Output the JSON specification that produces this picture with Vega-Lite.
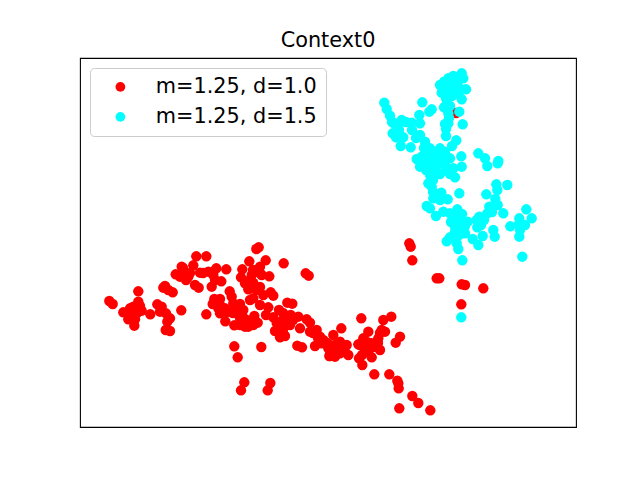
{"$schema":"https://vega.github.io/schema/vega-lite/v6.json","width":496,"height":369,"autosize":{"type":"none"},"padding":{"left":80,"top":58,"right":64,"bottom":53},"background":"white","title":{"text":"Context0","font":"DejaVu Sans","fontSize":20.8,"fontWeight":"normal","color":"black","anchor":"middle","offset":6},"config":{"view":{"stroke":"black","strokeWidth":1.1},"font":"DejaVu Sans"},"data":{"values":[{"x":109.3,"y":301,"s":"m=1.25, d=1.0"},{"x":112.7,"y":304,"s":"m=1.25, d=1.0"},{"x":138.3,"y":291.3,"s":"m=1.25, d=1.0"},{"x":123.3,"y":312.3,"s":"m=1.25, d=1.0"},{"x":130,"y":308.3,"s":"m=1.25, d=1.0"},{"x":133.3,"y":306.7,"s":"m=1.25, d=1.0"},{"x":138.3,"y":301.7,"s":"m=1.25, d=1.0"},{"x":140,"y":306,"s":"m=1.25, d=1.0"},{"x":141.7,"y":310.7,"s":"m=1.25, d=1.0"},{"x":128.3,"y":319.3,"s":"m=1.25, d=1.0"},{"x":135,"y":319.3,"s":"m=1.25, d=1.0"},{"x":134.3,"y":325.7,"s":"m=1.25, d=1.0"},{"x":131.7,"y":315,"s":"m=1.25, d=1.0"},{"x":150.3,"y":314.3,"s":"m=1.25, d=1.0"},{"x":157.3,"y":304.3,"s":"m=1.25, d=1.0"},{"x":161.7,"y":306.7,"s":"m=1.25, d=1.0"},{"x":160,"y":311.7,"s":"m=1.25, d=1.0"},{"x":166,"y":313.3,"s":"m=1.25, d=1.0"},{"x":170,"y":318.3,"s":"m=1.25, d=1.0"},{"x":167.3,"y":321.7,"s":"m=1.25, d=1.0"},{"x":165.7,"y":330,"s":"m=1.25, d=1.0"},{"x":170,"y":331,"s":"m=1.25, d=1.0"},{"x":181.3,"y":310.3,"s":"m=1.25, d=1.0"},{"x":165,"y":286,"s":"m=1.25, d=1.0"},{"x":163.3,"y":287.7,"s":"m=1.25, d=1.0"},{"x":168.3,"y":290,"s":"m=1.25, d=1.0"},{"x":172.7,"y":292.3,"s":"m=1.25, d=1.0"},{"x":175.7,"y":274.3,"s":"m=1.25, d=1.0"},{"x":181.7,"y":266.7,"s":"m=1.25, d=1.0"},{"x":183.3,"y":271.7,"s":"m=1.25, d=1.0"},{"x":180,"y":276.7,"s":"m=1.25, d=1.0"},{"x":186,"y":280,"s":"m=1.25, d=1.0"},{"x":188.3,"y":276.7,"s":"m=1.25, d=1.0"},{"x":193.3,"y":265.3,"s":"m=1.25, d=1.0"},{"x":196.3,"y":256.3,"s":"m=1.25, d=1.0"},{"x":206.3,"y":256.3,"s":"m=1.25, d=1.0"},{"x":195,"y":285,"s":"m=1.25, d=1.0"},{"x":198.7,"y":287.7,"s":"m=1.25, d=1.0"},{"x":200,"y":272.7,"s":"m=1.25, d=1.0"},{"x":208.3,"y":271.7,"s":"m=1.25, d=1.0"},{"x":216.3,"y":268.3,"s":"m=1.25, d=1.0"},{"x":213.3,"y":275,"s":"m=1.25, d=1.0"},{"x":226.3,"y":269.3,"s":"m=1.25, d=1.0"},{"x":221.3,"y":281.3,"s":"m=1.25, d=1.0"},{"x":211.7,"y":286.7,"s":"m=1.25, d=1.0"},{"x":229.7,"y":291.3,"s":"m=1.25, d=1.0"},{"x":214.3,"y":299,"s":"m=1.25, d=1.0"},{"x":220,"y":299,"s":"m=1.25, d=1.0"},{"x":212.7,"y":304,"s":"m=1.25, d=1.0"},{"x":218.3,"y":308.3,"s":"m=1.25, d=1.0"},{"x":225,"y":308.3,"s":"m=1.25, d=1.0"},{"x":220,"y":313.3,"s":"m=1.25, d=1.0"},{"x":206.3,"y":314.3,"s":"m=1.25, d=1.0"},{"x":225.3,"y":321.3,"s":"m=1.25, d=1.0"},{"x":231.7,"y":296.7,"s":"m=1.25, d=1.0"},{"x":233.3,"y":303.3,"s":"m=1.25, d=1.0"},{"x":240,"y":304,"s":"m=1.25, d=1.0"},{"x":236.7,"y":310,"s":"m=1.25, d=1.0"},{"x":243.3,"y":310,"s":"m=1.25, d=1.0"},{"x":234.3,"y":325.3,"s":"m=1.25, d=1.0"},{"x":243.3,"y":317.3,"s":"m=1.25, d=1.0"},{"x":245,"y":326.7,"s":"m=1.25, d=1.0"},{"x":253.3,"y":325,"s":"m=1.25, d=1.0"},{"x":257.7,"y":322.7,"s":"m=1.25, d=1.0"},{"x":254.3,"y":316,"s":"m=1.25, d=1.0"},{"x":242.3,"y":269.3,"s":"m=1.25, d=1.0"},{"x":241,"y":277.3,"s":"m=1.25, d=1.0"},{"x":245,"y":283.3,"s":"m=1.25, d=1.0"},{"x":248.3,"y":289.3,"s":"m=1.25, d=1.0"},{"x":256.7,"y":290,"s":"m=1.25, d=1.0"},{"x":249.3,"y":261.3,"s":"m=1.25, d=1.0"},{"x":265.7,"y":260.3,"s":"m=1.25, d=1.0"},{"x":260,"y":266.7,"s":"m=1.25, d=1.0"},{"x":256.7,"y":271.7,"s":"m=1.25, d=1.0"},{"x":251.7,"y":275,"s":"m=1.25, d=1.0"},{"x":261.7,"y":275,"s":"m=1.25, d=1.0"},{"x":269.3,"y":276.3,"s":"m=1.25, d=1.0"},{"x":283.7,"y":263.3,"s":"m=1.25, d=1.0"},{"x":256.3,"y":249,"s":"m=1.25, d=1.0"},{"x":258.7,"y":247.3,"s":"m=1.25, d=1.0"},{"x":305.7,"y":273.3,"s":"m=1.25, d=1.0"},{"x":308.7,"y":275.7,"s":"m=1.25, d=1.0"},{"x":253.3,"y":298.3,"s":"m=1.25, d=1.0"},{"x":260,"y":305,"s":"m=1.25, d=1.0"},{"x":270.7,"y":292.3,"s":"m=1.25, d=1.0"},{"x":273.3,"y":295.7,"s":"m=1.25, d=1.0"},{"x":263.3,"y":295,"s":"m=1.25, d=1.0"},{"x":268.3,"y":307.3,"s":"m=1.25, d=1.0"},{"x":266,"y":315,"s":"m=1.25, d=1.0"},{"x":273.3,"y":317.3,"s":"m=1.25, d=1.0"},{"x":279,"y":310,"s":"m=1.25, d=1.0"},{"x":287.3,"y":302.7,"s":"m=1.25, d=1.0"},{"x":292.3,"y":303.7,"s":"m=1.25, d=1.0"},{"x":283.3,"y":320,"s":"m=1.25, d=1.0"},{"x":290.7,"y":315,"s":"m=1.25, d=1.0"},{"x":298.3,"y":316.7,"s":"m=1.25, d=1.0"},{"x":306.7,"y":319.3,"s":"m=1.25, d=1.0"},{"x":310,"y":322.7,"s":"m=1.25, d=1.0"},{"x":300,"y":328.3,"s":"m=1.25, d=1.0"},{"x":290,"y":325,"s":"m=1.25, d=1.0"},{"x":275,"y":331,"s":"m=1.25, d=1.0"},{"x":280,"y":337.3,"s":"m=1.25, d=1.0"},{"x":285,"y":336,"s":"m=1.25, d=1.0"},{"x":283.3,"y":328.3,"s":"m=1.25, d=1.0"},{"x":297.3,"y":345.7,"s":"m=1.25, d=1.0"},{"x":302,"y":347.3,"s":"m=1.25, d=1.0"},{"x":310,"y":331.7,"s":"m=1.25, d=1.0"},{"x":316.7,"y":330,"s":"m=1.25, d=1.0"},{"x":320,"y":336.7,"s":"m=1.25, d=1.0"},{"x":323.3,"y":340,"s":"m=1.25, d=1.0"},{"x":315,"y":346,"s":"m=1.25, d=1.0"},{"x":321.7,"y":343.3,"s":"m=1.25, d=1.0"},{"x":328.3,"y":348.3,"s":"m=1.25, d=1.0"},{"x":329.3,"y":356,"s":"m=1.25, d=1.0"},{"x":234.3,"y":346.3,"s":"m=1.25, d=1.0"},{"x":261.3,"y":347,"s":"m=1.25, d=1.0"},{"x":237.7,"y":357.3,"s":"m=1.25, d=1.0"},{"x":244.3,"y":382.3,"s":"m=1.25, d=1.0"},{"x":241,"y":390.3,"s":"m=1.25, d=1.0"},{"x":270.3,"y":383,"s":"m=1.25, d=1.0"},{"x":267.7,"y":390.3,"s":"m=1.25, d=1.0"},{"x":241.7,"y":318.3,"s":"m=1.25, d=1.0"},{"x":250,"y":300,"s":"m=1.25, d=1.0"},{"x":240,"y":325,"s":"m=1.25, d=1.0"},{"x":333.3,"y":335,"s":"m=1.25, d=1.0"},{"x":341.3,"y":328.3,"s":"m=1.25, d=1.0"},{"x":361.3,"y":318.3,"s":"m=1.25, d=1.0"},{"x":383.3,"y":320,"s":"m=1.25, d=1.0"},{"x":391.3,"y":316.7,"s":"m=1.25, d=1.0"},{"x":381.7,"y":330,"s":"m=1.25, d=1.0"},{"x":385,"y":331.7,"s":"m=1.25, d=1.0"},{"x":368.3,"y":331.7,"s":"m=1.25, d=1.0"},{"x":363.3,"y":338.3,"s":"m=1.25, d=1.0"},{"x":358.3,"y":344.3,"s":"m=1.25, d=1.0"},{"x":365,"y":345,"s":"m=1.25, d=1.0"},{"x":371.7,"y":343.3,"s":"m=1.25, d=1.0"},{"x":378.3,"y":338.3,"s":"m=1.25, d=1.0"},{"x":380,"y":350,"s":"m=1.25, d=1.0"},{"x":371.7,"y":357.3,"s":"m=1.25, d=1.0"},{"x":359,"y":358.3,"s":"m=1.25, d=1.0"},{"x":362.3,"y":365,"s":"m=1.25, d=1.0"},{"x":348.3,"y":355,"s":"m=1.25, d=1.0"},{"x":346.7,"y":345,"s":"m=1.25, d=1.0"},{"x":340,"y":341.7,"s":"m=1.25, d=1.0"},{"x":335,"y":345,"s":"m=1.25, d=1.0"},{"x":330,"y":350,"s":"m=1.25, d=1.0"},{"x":330,"y":356,"s":"m=1.25, d=1.0"},{"x":335,"y":356.7,"s":"m=1.25, d=1.0"},{"x":340,"y":353.3,"s":"m=1.25, d=1.0"},{"x":343.3,"y":348.3,"s":"m=1.25, d=1.0"},{"x":330,"y":345,"s":"m=1.25, d=1.0"},{"x":400,"y":336.7,"s":"m=1.25, d=1.0"},{"x":395.7,"y":342.7,"s":"m=1.25, d=1.0"},{"x":374.3,"y":374.3,"s":"m=1.25, d=1.0"},{"x":389.3,"y":374.3,"s":"m=1.25, d=1.0"},{"x":397.3,"y":380.7,"s":"m=1.25, d=1.0"},{"x":398.7,"y":388.3,"s":"m=1.25, d=1.0"},{"x":398.3,"y":383.3,"s":"m=1.25, d=1.0"},{"x":412.3,"y":396,"s":"m=1.25, d=1.0"},{"x":418.3,"y":403,"s":"m=1.25, d=1.0"},{"x":399.3,"y":408.3,"s":"m=1.25, d=1.0"},{"x":430.3,"y":410.3,"s":"m=1.25, d=1.0"},{"x":409.3,"y":243.3,"s":"m=1.25, d=1.0"},{"x":410.7,"y":246.7,"s":"m=1.25, d=1.0"},{"x":412.3,"y":260.3,"s":"m=1.25, d=1.0"},{"x":436.7,"y":278.3,"s":"m=1.25, d=1.0"},{"x":439.3,"y":278.3,"s":"m=1.25, d=1.0"},{"x":461.7,"y":284.3,"s":"m=1.25, d=1.0"},{"x":465,"y":285,"s":"m=1.25, d=1.0"},{"x":483.3,"y":288.3,"s":"m=1.25, d=1.0"},{"x":461.3,"y":304.3,"s":"m=1.25, d=1.0"},{"x":370,"y":348.3,"s":"m=1.25, d=1.0"},{"x":366.7,"y":351.7,"s":"m=1.25, d=1.0"},{"x":456,"y":113,"s":"m=1.25, d=1.0"},{"x":236.7,"y":305,"s":"m=1.25, d=1.0"},{"x":240,"y":318,"s":"m=1.25, d=1.0"},{"x":246.7,"y":320,"s":"m=1.25, d=1.0"},{"x":251.7,"y":323,"s":"m=1.25, d=1.0"},{"x":248.3,"y":326.7,"s":"m=1.25, d=1.0"},{"x":253.3,"y":283,"s":"m=1.25, d=1.0"},{"x":260,"y":287,"s":"m=1.25, d=1.0"},{"x":255,"y":288,"s":"m=1.25, d=1.0"},{"x":253,"y":270,"s":"m=1.25, d=1.0"},{"x":260,"y":273,"s":"m=1.25, d=1.0"},{"x":250,"y":280,"s":"m=1.25, d=1.0"},{"x":276.7,"y":323,"s":"m=1.25, d=1.0"},{"x":283,"y":313,"s":"m=1.25, d=1.0"},{"x":280,"y":322,"s":"m=1.25, d=1.0"},{"x":288,"y":320,"s":"m=1.25, d=1.0"},{"x":293,"y":320,"s":"m=1.25, d=1.0"},{"x":280,"y":330,"s":"m=1.25, d=1.0"},{"x":283,"y":333,"s":"m=1.25, d=1.0"},{"x":313,"y":333,"s":"m=1.25, d=1.0"},{"x":318,"y":338,"s":"m=1.25, d=1.0"},{"x":327,"y":343,"s":"m=1.25, d=1.0"},{"x":133,"y":312,"s":"m=1.25, d=1.0"},{"x":130,"y":317,"s":"m=1.25, d=1.0"},{"x":137,"y":313,"s":"m=1.25, d=1.0"},{"x":185,"y":277,"s":"m=1.25, d=1.0"},{"x":183,"y":268,"s":"m=1.25, d=1.0"},{"x":190,"y":273,"s":"m=1.25, d=1.0"},{"x":203,"y":273,"s":"m=1.25, d=1.0"},{"x":212,"y":272,"s":"m=1.25, d=1.0"},{"x":215,"y":280,"s":"m=1.25, d=1.0"},{"x":220,"y":305,"s":"m=1.25, d=1.0"},{"x":227,"y":312,"s":"m=1.25, d=1.0"},{"x":233,"y":313,"s":"m=1.25, d=1.0"},{"x":235,"y":308,"s":"m=1.25, d=1.0"},{"x":325,"y":342,"s":"m=1.25, d=1.0"},{"x":337,"y":347,"s":"m=1.25, d=1.0"},{"x":342,"y":348,"s":"m=1.25, d=1.0"},{"x":338,"y":352,"s":"m=1.25, d=1.0"},{"x":333,"y":353,"s":"m=1.25, d=1.0"},{"x":345,"y":352,"s":"m=1.25, d=1.0"},{"x":360,"y":345,"s":"m=1.25, d=1.0"},{"x":367,"y":342,"s":"m=1.25, d=1.0"},{"x":373,"y":347,"s":"m=1.25, d=1.0"},{"x":377,"y":347,"s":"m=1.25, d=1.0"},{"x":365,"y":350,"s":"m=1.25, d=1.0"},{"x":362,"y":355,"s":"m=1.25, d=1.0"},{"x":380,"y":333,"s":"m=1.25, d=1.0"},{"x":378,"y":343,"s":"m=1.25, d=1.0"},{"x":384.3,"y":102.7,"s":"m=1.25, d=1.5"},{"x":386.7,"y":109,"s":"m=1.25, d=1.5"},{"x":390,"y":115.7,"s":"m=1.25, d=1.5"},{"x":394,"y":123.3,"s":"m=1.25, d=1.5"},{"x":401.7,"y":120,"s":"m=1.25, d=1.5"},{"x":392.7,"y":133.3,"s":"m=1.25, d=1.5"},{"x":396,"y":137.3,"s":"m=1.25, d=1.5"},{"x":403.3,"y":137.3,"s":"m=1.25, d=1.5"},{"x":400.7,"y":146,"s":"m=1.25, d=1.5"},{"x":410.7,"y":147.3,"s":"m=1.25, d=1.5"},{"x":411.7,"y":122.7,"s":"m=1.25, d=1.5"},{"x":419.3,"y":115,"s":"m=1.25, d=1.5"},{"x":420,"y":123.3,"s":"m=1.25, d=1.5"},{"x":422.3,"y":102.3,"s":"m=1.25, d=1.5"},{"x":429.3,"y":111.7,"s":"m=1.25, d=1.5"},{"x":431.7,"y":109.3,"s":"m=1.25, d=1.5"},{"x":461.7,"y":73.3,"s":"m=1.25, d=1.5"},{"x":463.3,"y":78.3,"s":"m=1.25, d=1.5"},{"x":453.3,"y":76,"s":"m=1.25, d=1.5"},{"x":448.3,"y":78.3,"s":"m=1.25, d=1.5"},{"x":444,"y":81.7,"s":"m=1.25, d=1.5"},{"x":440,"y":85,"s":"m=1.25, d=1.5"},{"x":445,"y":86.7,"s":"m=1.25, d=1.5"},{"x":450,"y":83.3,"s":"m=1.25, d=1.5"},{"x":456.7,"y":81.7,"s":"m=1.25, d=1.5"},{"x":458.3,"y":86.7,"s":"m=1.25, d=1.5"},{"x":466,"y":89.3,"s":"m=1.25, d=1.5"},{"x":441.7,"y":92.7,"s":"m=1.25, d=1.5"},{"x":448.3,"y":91.7,"s":"m=1.25, d=1.5"},{"x":455,"y":93.3,"s":"m=1.25, d=1.5"},{"x":461.7,"y":99.3,"s":"m=1.25, d=1.5"},{"x":446,"y":98.3,"s":"m=1.25, d=1.5"},{"x":444,"y":107.3,"s":"m=1.25, d=1.5"},{"x":448.3,"y":113.3,"s":"m=1.25, d=1.5"},{"x":459.3,"y":111.7,"s":"m=1.25, d=1.5"},{"x":448.3,"y":123.3,"s":"m=1.25, d=1.5"},{"x":462.7,"y":124.3,"s":"m=1.25, d=1.5"},{"x":446,"y":129,"s":"m=1.25, d=1.5"},{"x":446,"y":136,"s":"m=1.25, d=1.5"},{"x":456.3,"y":140.3,"s":"m=1.25, d=1.5"},{"x":420,"y":135,"s":"m=1.25, d=1.5"},{"x":425,"y":141.7,"s":"m=1.25, d=1.5"},{"x":430,"y":148.3,"s":"m=1.25, d=1.5"},{"x":416.7,"y":159,"s":"m=1.25, d=1.5"},{"x":421.7,"y":156.7,"s":"m=1.25, d=1.5"},{"x":440,"y":148.3,"s":"m=1.25, d=1.5"},{"x":445,"y":151.7,"s":"m=1.25, d=1.5"},{"x":450,"y":158.3,"s":"m=1.25, d=1.5"},{"x":443.3,"y":156.7,"s":"m=1.25, d=1.5"},{"x":461.3,"y":156.3,"s":"m=1.25, d=1.5"},{"x":478.3,"y":153.3,"s":"m=1.25, d=1.5"},{"x":485,"y":158.3,"s":"m=1.25, d=1.5"},{"x":487.3,"y":166,"s":"m=1.25, d=1.5"},{"x":498.3,"y":161,"s":"m=1.25, d=1.5"},{"x":497.7,"y":163.3,"s":"m=1.25, d=1.5"},{"x":461.7,"y":166.7,"s":"m=1.25, d=1.5"},{"x":446.7,"y":167.3,"s":"m=1.25, d=1.5"},{"x":453.3,"y":168.3,"s":"m=1.25, d=1.5"},{"x":426.7,"y":160,"s":"m=1.25, d=1.5"},{"x":433.3,"y":163.3,"s":"m=1.25, d=1.5"},{"x":420,"y":166.7,"s":"m=1.25, d=1.5"},{"x":431.7,"y":168.3,"s":"m=1.25, d=1.5"},{"x":425,"y":155,"s":"m=1.25, d=1.5"},{"x":431.7,"y":155,"s":"m=1.25, d=1.5"},{"x":430,"y":163.3,"s":"m=1.25, d=1.5"},{"x":430,"y":175,"s":"m=1.25, d=1.5"},{"x":431.7,"y":186.7,"s":"m=1.25, d=1.5"},{"x":440,"y":174,"s":"m=1.25, d=1.5"},{"x":446.7,"y":168.3,"s":"m=1.25, d=1.5"},{"x":455,"y":177.3,"s":"m=1.25, d=1.5"},{"x":450,"y":174,"s":"m=1.25, d=1.5"},{"x":428.3,"y":183.3,"s":"m=1.25, d=1.5"},{"x":496.3,"y":184.3,"s":"m=1.25, d=1.5"},{"x":507.3,"y":185,"s":"m=1.25, d=1.5"},{"x":497.3,"y":190,"s":"m=1.25, d=1.5"},{"x":459.3,"y":193.3,"s":"m=1.25, d=1.5"},{"x":486.3,"y":194.3,"s":"m=1.25, d=1.5"},{"x":441.3,"y":192.7,"s":"m=1.25, d=1.5"},{"x":433.3,"y":198.3,"s":"m=1.25, d=1.5"},{"x":440,"y":200,"s":"m=1.25, d=1.5"},{"x":447.7,"y":199.3,"s":"m=1.25, d=1.5"},{"x":495.3,"y":199,"s":"m=1.25, d=1.5"},{"x":497.7,"y":205,"s":"m=1.25, d=1.5"},{"x":426.7,"y":206,"s":"m=1.25, d=1.5"},{"x":430,"y":208.3,"s":"m=1.25, d=1.5"},{"x":503.3,"y":213.3,"s":"m=1.25, d=1.5"},{"x":489.3,"y":206.7,"s":"m=1.25, d=1.5"},{"x":487.3,"y":213.3,"s":"m=1.25, d=1.5"},{"x":479.3,"y":216.7,"s":"m=1.25, d=1.5"},{"x":484,"y":220,"s":"m=1.25, d=1.5"},{"x":476.7,"y":220,"s":"m=1.25, d=1.5"},{"x":477.3,"y":227.3,"s":"m=1.25, d=1.5"},{"x":436,"y":216,"s":"m=1.25, d=1.5"},{"x":443.3,"y":211.7,"s":"m=1.25, d=1.5"},{"x":450,"y":213.3,"s":"m=1.25, d=1.5"},{"x":457.3,"y":209.3,"s":"m=1.25, d=1.5"},{"x":453.3,"y":218.3,"s":"m=1.25, d=1.5"},{"x":460,"y":218.3,"s":"m=1.25, d=1.5"},{"x":467.7,"y":221.7,"s":"m=1.25, d=1.5"},{"x":455,"y":226.7,"s":"m=1.25, d=1.5"},{"x":461.7,"y":228.3,"s":"m=1.25, d=1.5"},{"x":465,"y":233.3,"s":"m=1.25, d=1.5"},{"x":450,"y":237.3,"s":"m=1.25, d=1.5"},{"x":446.7,"y":241.3,"s":"m=1.25, d=1.5"},{"x":456.7,"y":243.3,"s":"m=1.25, d=1.5"},{"x":458.3,"y":249,"s":"m=1.25, d=1.5"},{"x":472.7,"y":239,"s":"m=1.25, d=1.5"},{"x":478.3,"y":245,"s":"m=1.25, d=1.5"},{"x":482.7,"y":236,"s":"m=1.25, d=1.5"},{"x":493.3,"y":230,"s":"m=1.25, d=1.5"},{"x":494.7,"y":236.7,"s":"m=1.25, d=1.5"},{"x":510.3,"y":226.3,"s":"m=1.25, d=1.5"},{"x":519.3,"y":218.3,"s":"m=1.25, d=1.5"},{"x":526.3,"y":209.3,"s":"m=1.25, d=1.5"},{"x":531.7,"y":218.3,"s":"m=1.25, d=1.5"},{"x":525,"y":225,"s":"m=1.25, d=1.5"},{"x":520,"y":230,"s":"m=1.25, d=1.5"},{"x":519.3,"y":236.7,"s":"m=1.25, d=1.5"},{"x":462.3,"y":260.3,"s":"m=1.25, d=1.5"},{"x":522.3,"y":256.7,"s":"m=1.25, d=1.5"},{"x":461.3,"y":317.3,"s":"m=1.25, d=1.5"},{"x":447,"y":103,"s":"m=1.25, d=1.5"},{"x":452,"y":96,"s":"m=1.25, d=1.5"},{"x":450,"y":106,"s":"m=1.25, d=1.5"},{"x":449,"y":118,"s":"m=1.25, d=1.5"},{"x":445,"y":124,"s":"m=1.25, d=1.5"},{"x":451,"y":88,"s":"m=1.25, d=1.5"},{"x":459,"y":92,"s":"m=1.25, d=1.5"},{"x":452,"y":146,"s":"m=1.25, d=1.5"},{"x":435,"y":155,"s":"m=1.25, d=1.5"},{"x":438,"y":160,"s":"m=1.25, d=1.5"},{"x":428,"y":150,"s":"m=1.25, d=1.5"},{"x":436,"y":165,"s":"m=1.25, d=1.5"},{"x":441,"y":163,"s":"m=1.25, d=1.5"},{"x":425,"y":165,"s":"m=1.25, d=1.5"},{"x":437,"y":172,"s":"m=1.25, d=1.5"},{"x":433,"y":180,"s":"m=1.25, d=1.5"},{"x":433,"y":192,"s":"m=1.25, d=1.5"},{"x":456,"y":214,"s":"m=1.25, d=1.5"},{"x":462,"y":214,"s":"m=1.25, d=1.5"},{"x":458,"y":222,"s":"m=1.25, d=1.5"},{"x":451,"y":222,"s":"m=1.25, d=1.5"},{"x":459,"y":235,"s":"m=1.25, d=1.5"},{"x":455,"y":232,"s":"m=1.25, d=1.5"},{"x":465,"y":226,"s":"m=1.25, d=1.5"},{"x":481,"y":225,"s":"m=1.25, d=1.5"},{"x":492,"y":212,"s":"m=1.25, d=1.5"},{"x":519,"y":224,"s":"m=1.25, d=1.5"},{"x":392,"y":122,"s":"m=1.25, d=1.5"},{"x":398,"y":125,"s":"m=1.25, d=1.5"},{"x":406,"y":122,"s":"m=1.25, d=1.5"},{"x":399,"y":130,"s":"m=1.25, d=1.5"},{"x":412,"y":130,"s":"m=1.25, d=1.5"},{"x":416,"y":138,"s":"m=1.25, d=1.5"},{"x":424,"y":148,"s":"m=1.25, d=1.5"},{"x":426,"y":170,"s":"m=1.25, d=1.5"}]},"mark":{"type":"point","filled":true,"size":108,"opacity":1},"encoding":{"x":{"field":"x","type":"quantitative","axis":null,"scale":{"domain":[80,576]}},"y":{"field":"y","type":"quantitative","axis":null,"scale":{"domain":[58,427],"reverse":true}},"color":{"field":"s","type":"nominal","scale":{"domain":["m=1.25, d=1.0","m=1.25, d=1.5"],"range":["#ff0000","#00ffff"]},"legend":{"title":null,"orient":"none","legendX":10,"legendY":10,"fillColor":"white","strokeColor":"#cccccc","cornerRadius":4,"padding":8.5,"labelFont":"DejaVu Sans","labelFontSize":20.8,"labelColor":"black","symbolType":"circle","symbolSize":95,"symbolOpacity":1,"symbolOffset":11.5,"labelLimit":300,"rowPadding":8,"labelOffset":25}}}}
